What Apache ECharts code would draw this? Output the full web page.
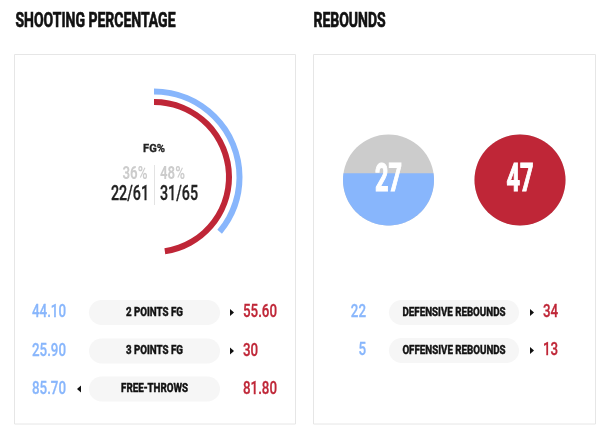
<!DOCTYPE html>
<html>
<head>
<meta charset="utf-8">
<script src="https://cdn.jsdelivr.net/npm/echarts@6/dist/echarts.min.js"></script>
<style>
html,body{margin:0;padding:0;background:#fff;}
#c{width:607px;height:431px;}
</style>
</head>
<body>
<div id="c"></div>
<script>
// ---- data ----
var fgMade = [22, 31];
var fgAttempted = [61, 65];
var fgPct = ['36%', '48%'];
var shootCategories = ['2 POINTS FG', '3 POINTS FG', 'FREE-THROWS'];
var shootTeam1 = [44.10, 25.90, 85.70];
var shootTeam2 = [55.60, 30, 81.80];
var shootLabels1 = ['44.10', '25.90', '85.70'];
var shootLabels2 = ['55.60', '30', '81.80'];
var rebCategories = ['DEFENSIVE REBOUNDS', 'OFFENSIVE REBOUNDS'];
var rebTeam1 = [22, 5];
var rebTeam2 = [34, 13];
var titles = ['SHOOTING PERCENTAGE', 'REBOUNDS'];

// ---- style ----
var BLUE = '#88b6fc';
var RED = '#bf2637';
var GRAY = '#cccccc';
var FONT = "Roboto, 'Open Sans', sans-serif";

// condensed look: compute a horizontal squeeze per text class from a sample string
var mctx = document.createElement('canvas').getContext('2d');
function squeeze(font, sample, targetW) {
  mctx.font = font + ' ' + FONT;
  return targetW / mctx.measureText(sample).width;
}
var CLS = {
  title: {font: 'bold 21px', sx: squeeze('bold 21px', 'SHOOTING PERCENTAGE', 160), stroke: 0.7},
  value: {font: '500 18px', sx: squeeze('500 18px', '44.10', 34), stroke: 0.3},
  pill: {font: 'bold 12.5px', sx: squeeze('bold 12.5px', '2 POINTS FG', 57), stroke: 0.5},
  fg: {font: 'bold 11.5px', sx: squeeze('bold 11.5px', 'FG%', 22), stroke: 0.3},
  pct: {font: 'bold 18px', sx: squeeze('bold 18px', '36%', 25), stroke: 0},
  made: {font: '500 20px', sx: squeeze('500 20px', '22/61', 38), stroke: 0.3},
  big: {font: 'bold 39px', sx: squeeze('bold 39px', '27', 27), stroke: 1.2}
};

function T(cls, text, x, y, color, align, z) {
  var c = CLS[cls];
  var st = {text: text, font: c.font + ' ' + FONT, fill: color, textAlign: align || 'left', textVerticalAlign: 'middle'};
  if (c.stroke) { st.stroke = color; st.lineWidth = c.stroke; }
  return {type: 'text', x: x, y: y, scaleX: c.sx, z: z || 5, silent: true, style: st};
}

var chart = echarts.init(document.getElementById('c'), null, {renderer: 'canvas'});

var totals = [rebTeam1[0] + rebTeam1[1], rebTeam2[0] + rebTeam2[1]];

var g = [];
// panels
g.push({type: 'rect', shape: {x: 14.5, y: 54.5, width: 281, height: 369.5}, style: {fill: '#fff', stroke: '#e6e6e6', lineWidth: 1}, silent: true, z: 0});
g.push({type: 'rect', shape: {x: 313.5, y: 54.5, width: 282, height: 369.5}, style: {fill: '#fff', stroke: '#e6e6e6', lineWidth: 1}, silent: true, z: 0});
// titles
g.push(T('title', titles[0], 15.5, 21.5, '#111', 'left'));
g.push(T('title', titles[1], 313.5, 21.5, '#111', 'left'));

// center text of FG
g.push(T('fg', 'FG%', 154, 149.5, '#222', 'center'));
g.push(T('pct', fgPct[0], 147.5, 174, GRAY, 'right'));
g.push(T('pct', fgPct[1], 160, 174, GRAY, 'left'));
g.push(T('made', fgMade[0] + '/' + fgAttempted[0], 149, 195, '#222', 'right'));
g.push(T('made', fgMade[1] + '/' + fgAttempted[1], 160, 195, '#222', 'left'));
g.push({type: 'line', shape: {x1: 154.5, y1: 165, x2: 154.5, y2: 205}, style: {stroke: '#e3e3e3', lineWidth: 1}, z: 5});

function addRows(cats, v1, v2, l1, l2, cfg) {
  for (var i = 0; i < cats.length; i++) {
    var y = cfg.ys[i];
    g.push({type: 'rect', shape: {x: cfg.pillX, y: y - 12.5, width: cfg.pillW, height: 25, r: 12.5}, style: {fill: '#f6f6f6'}, z: 3});
    g.push(T('pill', cats[i], cfg.pillX + cfg.pillW / 2, y, '#111', 'center'));
    g.push(T('value', String(l1[i]), cfg.leftR, y, BLUE, 'right'));
    g.push(T('value', String(l2[i]), cfg.rightL, y, RED, 'left'));
    if (v2[i] > v1[i]) {
      var ax = cfg.arrowR;
      g.push({type: 'polygon', shape: {points: [[ax, y - 3.5], [ax + 4, y], [ax, y + 3.5]]}, style: {fill: '#111'}, z: 5});
    } else if (v1[i] > v2[i]) {
      var bx = cfg.arrowL;
      g.push({type: 'polygon', shape: {points: [[bx + 4, y - 3.5], [bx, y], [bx + 4, y + 3.5]]}, style: {fill: '#111'}, z: 5});
    }
  }
}
addRows(shootCategories, shootTeam1, shootTeam2, shootLabels1, shootLabels2,
  {ys: [312.5, 351, 389], pillX: 89, pillW: 131, leftR: 66, rightL: 243, arrowR: 230, arrowL: 77});
addRows(rebCategories, rebTeam1, rebTeam2, rebTeam1, rebTeam2,
  {ys: [312.5, 350.5], pillX: 389, pillW: 130, leftR: 366, rightL: 543, arrowR: 530, arrowL: 377});

var circleCenters = [[388.5, 180], [520, 180]];
var circleColors = [BLUE, RED];
var maxTotal = Math.max(totals[0], totals[1]);

var option = {
  animation: false,
  backgroundColor: '#fff',
  graphic: {elements: g},
  series: [
    {
      type: 'pie', silent: true, center: [154, 177], radius: [82.5, 88.5],
      startAngle: 90, clockwise: true, label: {show: false}, labelLine: {show: false},
      itemStyle: {borderWidth: 0}, emphasis: {disabled: true}, z: 2,
      data: [
        {value: fgMade[0], itemStyle: {color: BLUE}},
        {value: fgAttempted[0] - fgMade[0], itemStyle: {color: 'rgba(0,0,0,0)'}}
      ]
    },
    {
      type: 'pie', silent: true, center: [154, 177], radius: [72, 78],
      startAngle: 90, clockwise: true, label: {show: false}, labelLine: {show: false},
      itemStyle: {borderWidth: 0}, emphasis: {disabled: true}, z: 2,
      data: [
        {value: fgMade[1], itemStyle: {color: RED}},
        {value: fgAttempted[1] - fgMade[1], itemStyle: {color: 'rgba(0,0,0,0)'}}
      ]
    },
    {
      type: 'custom', coordinateSystem: 'none', silent: true, z: 4,
      data: [[0, totals[0]], [1, totals[1]]],
      renderItem: function (params, api) {
        var idx = api.value(0);
        var val = api.value(1);
        var c = circleCenters[idx];
        var r = 45.5;
        var f = val / maxTotal;
        var d = 1 - 2 * f;
        var a0 = Math.asin(Math.max(-1, Math.min(1, d)));
        var a1 = Math.PI - a0;
        var pts = [];
        var n = 80;
        for (var k = 0; k <= n; k++) {
          var t = a0 + (a1 - a0) * k / n;
          pts.push([c[0] + r * Math.cos(t), c[1] + r * Math.sin(t)]);
        }
        var txt = T('big', String(val), c[0], c[1] + 1, '#fff', 'center');
        return {
          type: 'group',
          children: [
            {type: 'circle', shape: {cx: c[0], cy: c[1], r: r}, style: {fill: GRAY}},
            {type: 'polygon', shape: {points: pts}, style: {fill: circleColors[idx]}},
            txt
          ]
        };
      }
    }
  ]
};
chart.setOption(option);
</script>
</body>
</html>
